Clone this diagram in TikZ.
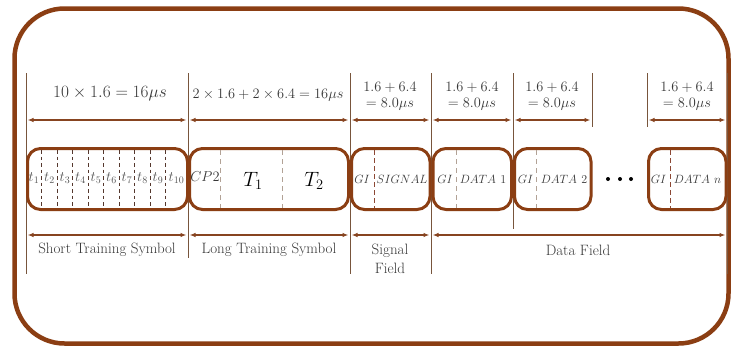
\documentclass[tikz,border=0pt]{standalone}
\usetikzlibrary{arrows.meta}
\definecolor{brn}{RGB}{139,62,19}
\definecolor{vln}{RGB}{120,85,60}
\definecolor{arw}{RGB}{135,68,32}
\definecolor{dkd}{RGB}{85,55,45}
\definecolor{tand}{RGB}{178,162,150}
\definecolor{brd}{RGB}{140,72,52}
\definecolor{txt}{RGB}{55,55,55}
\begin{document}
\begin{tikzpicture}[x=1pt,y=-1pt,
  frame/.style={draw=brn, line width=4.5pt, rounded corners=50pt},
  seg/.style={draw=brn, line width=3pt, rounded corners=13pt, minimum height=61pt, inner sep=0pt, outer sep=0pt},
  vline/.style={draw=vln, line width=0.9pt},
  dim/.style={draw=arw, line width=1.3pt, {Latex[length=6pt,width=4.5pt]}-{Latex[length=6pt,width=4.5pt]}},
  dshA/.style={draw=dkd, line width=0.8pt, dash pattern=on 3.5pt off 3pt},
  dshB/.style={draw=tand, line width=1pt, dash pattern=on 5pt off 4pt},
  dshC/.style={draw=brd, line width=0.9pt, dash pattern=on 4.5pt off 3.5pt},
  toplab/.style={text=txt, inner sep=0pt, font=\fontsize{14}{17}\selectfont, align=center},
  botlab/.style={text=txt, inner sep=0pt, font=\fontsize{15}{19}\selectfont, align=center},
  tlab/.style={text=txt!85, inner sep=0pt, font=\fontsize{14}{16}\selectfont},
  blab/.style={text=txt, inner sep=0pt, font=\fontsize{13}{15}\selectfont},
  biglab/.style={text=black, inner sep=0pt, font=\fontsize{20}{22}\selectfont},
  dotnode/.style={circle, fill=black, minimum size=4pt, inner sep=0pt}
]
\useasboundingbox (0,0) rectangle (731,349);
% outer frame
\draw[frame] (14.5,8.5) rectangle (728.5,343.5);

% vertical guide lines
\coordinate (v0t) at (26,73);   \coordinate (v0b) at (26,274);
\coordinate (v1t) at (188,73);  \coordinate (v1b) at (188,258);
\coordinate (v2t) at (350,73);  \coordinate (v2b) at (350,274);
\coordinate (v3t) at (431,73);  \coordinate (v3b) at (431,274);
\coordinate (v4t) at (513,73);  \coordinate (v4b) at (513,229);
\coordinate (v5t) at (592,73);  \coordinate (v5b) at (592,127);
\coordinate (v6t) at (647,73);  \coordinate (v6b) at (647,127);
\coordinate (v7t) at (727,73);  \coordinate (v7b) at (727,274);
\foreach \i in {0,...,7} { \draw[vline] (v\i t) -- (v\i b); }

% top dimension arrows
\coordinate (a0) at (27.5,120); \coordinate (a1) at (186.5,120);
\coordinate (a2) at (189.5,120); \coordinate (a3) at (348.5,120);
\coordinate (a4) at (351.5,120); \coordinate (a5) at (429.5,120);
\coordinate (a6) at (432.5,120); \coordinate (a7) at (511.5,120);
\coordinate (a8) at (514.5,120); \coordinate (a9) at (590.5,120);
\coordinate (a10) at (648.5,120); \coordinate (a11) at (725.5,120);
\draw[dim] (a0) -- (a1);
\draw[dim] (a2) -- (a3);
\draw[dim] (a4) -- (a5);
\draw[dim] (a6) -- (a7);
\draw[dim] (a8) -- (a9);
\draw[dim] (a10) -- (a11);

% bottom dimension arrows
\coordinate (c0) at (27.5,235); \coordinate (c1) at (186.5,235);
\coordinate (c2) at (189.5,235); \coordinate (c3) at (348.5,235);
\coordinate (c4) at (351.5,235); \coordinate (c5) at (429.5,235);
\coordinate (c6) at (432.5,235); \coordinate (c7) at (725.5,235);
\draw[dim] (c0) -- (c1);
\draw[dim] (c2) -- (c3);
\draw[dim] (c4) -- (c5);
\draw[dim] (c6) -- (c7);

% top labels
\node[toplab, font=\fontsize{16}{18}\selectfont] (tl1) at (110,94) {$10\times1.6=16\mu s$};
\node[toplab] (tl2) at (268,95) {$2\times1.6+2\times6.4=16\mu s$};
\node[toplab] (tl3) at (390,96) {$1.6+6.4$\\[-1pt]$=8.0\mu s$};
\node[toplab] (tl4) at (472,96) {$1.6+6.4$\\[-1pt]$=8.0\mu s$};
\node[toplab] (tl5) at (552,96) {$1.6+6.4$\\[-1pt]$=8.0\mu s$};
\node[toplab] (tl6) at (687,96) {$1.6+6.4$\\[-1pt]$=8.0\mu s$};

% boxes
\node[seg, minimum width=160pt] (b1) at (107.5,179) {};
\node[seg, minimum width=159pt] (b2) at (269,179) {};
\node[seg, minimum width=78.5pt] (b3) at (390.75,179) {};
\node[seg, minimum width=78.5pt] (b4) at (472.25,179) {};
\node[seg, minimum width=76.5pt] (b5) at (552.75,179) {};
\node[seg, minimum width=77.5pt] (b6) at (687.25,179) {};

% short training dashes and labels
\foreach \x in {41.7,57.2,72.7,88.2,103.7,119.2,134.7,150.2,165.7} {
  \draw[dshA] (\x,150) -- (\x,207);
}
\foreach \x/\k in {34/1,49.5/2,65/3,80.5/4,96/5,111.5/6,127/7,142.5/8,158/9,176.5/10} {
  \node[tlab] (t\k) at (\x,178) {$t_{\k}$};
}

% long training
\draw[dshB] (220,150) -- (220,208);
\draw[dshB] (282,150) -- (282,208);
\node[blab, font=\fontsize{14}{16}\selectfont] (cp) at (205,177) {$CP2$};
\node[biglab] (T1) at (253,181) {$T_1$};
\node[biglab] (T2) at (314,181) {$T_2$};

% signal
\draw[dshC] (374,150) -- (374,208);
\node[blab] (gi0) at (362,179) {$GI$};
\node[blab] (sig) at (402,179) {$SIGNAL$};

% data 1
\draw[dshB] (456,150) -- (456,208);
\node[blab] (gi1) at (445,179) {$GI$};
\node[blab] (d1) at (483,179) {$DATA~1$};

% data 2
\draw[dshB] (536,150) -- (536,208);
\node[blab] (gi2) at (525.5,179) {$GI$};
\node[blab] (d2) at (564,179) {$DATA~2$};

% dots
\node[dotnode] (p1) at (608,179) {};
\node[dotnode] (p2) at (620,179) {};
\node[dotnode] (p3) at (631,179) {};

% data n
\draw[dshC] (670,150) -- (670,208);
\node[blab] (gi3) at (658.5,179) {$GI$};
\node[blab] (dn) at (697.5,179) {$DATA~n$};

% bottom labels
\node[botlab] (s1) at (107,250) {Short Training Symbol};
\node[botlab] (s2) at (269,250) {Long Training Symbol};
\node[botlab] (s3) at (390,259) {Signal\\Field};
\node[botlab] (s4) at (578,250) {Data Field};
\end{tikzpicture}
\end{document}
